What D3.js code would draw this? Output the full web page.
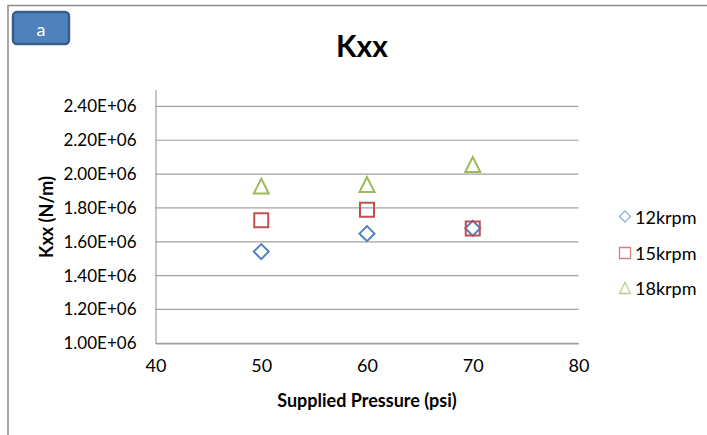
<!DOCTYPE html>
<html>
<head>
<meta charset="utf-8">
<script src="https://cdn.jsdelivr.net/npm/d3@7"></script>
<style>
  html, body { margin: 0; padding: 0; background: #fff; }
  svg { display: block; }
  text { font-family: Lato, "Open Sans", sans-serif; fill: #000; }
</style>
</head>
<body>
<svg id="chart" width="707" height="435"></svg>
<script>
// Supplied pressure (psi) and measured stiffness Kxx (N/m) per rotor speed
const pressures = [50, 60, 70];
const kxx12 = [1.542e6, 1.648e6, 1.680e6];
const kxx15 = [1.727e6, 1.789e6, 1.678e6];
const kxx18 = [1.929e6, 1.938e6, 2.057e6];
const seriesNames = ["12krpm", "15krpm", "18krpm"];
const xTicks = [40, 50, 60, 70, 80];
const yTicks = [1.0e6, 1.2e6, 1.4e6, 1.6e6, 1.8e6, 2.0e6, 2.2e6, 2.4e6];

// outline marker shapes; "size" is the half-extent in pixels
const diamond = { draw(c, h) { c.moveTo(0, -h); c.lineTo(h, 0); c.lineTo(0, h); c.lineTo(-h, 0); c.closePath(); } };
const square = { draw(c, h) { c.rect(-h, -h, 2 * h, 2 * h); } };
const triangle = { draw(c, h) { c.moveTo(0, -h); c.lineTo(h, h); c.lineTo(-h, h); c.closePath(); } };

const series = [
  { name: seriesNames[0], values: kxx12, color: "#4F81BD", light: "#8EB0DB", symbol: diamond, size: 7.5 },
  { name: seriesNames[1], values: kxx15, color: "#C0504D", light: "#D4807E", symbol: square, size: 7 },
  { name: seriesNames[2], values: kxx18, color: "#9BBB59", light: "#B9D08C", symbol: triangle, size: 7.5 }
];

const svg = d3.select("#chart");

// chart frame
svg.append("path")
  .attr("d", "M8,440 V5.5 H712")
  .attr("fill", "none")
  .attr("stroke", "#8c8c8c")
  .attr("stroke-width", 1.5);

// label badge
svg.append("rect")
  .attr("x", 13).attr("y", 12).attr("width", 56).attr("height", 32)
  .attr("rx", 4)
  .attr("fill", "#4F81BD")
  .attr("stroke", "#385D8A")
  .attr("stroke-width", 2.5);
svg.append("text")
  .attr("x", 41).attr("y", 29)
  .attr("text-anchor", "middle").attr("dominant-baseline", "central")
  .style("fill", "#fff").style("font-size", "18px")
  .text("a");

const x = d3.scaleLinear().domain([40, 80]).range([155.5, 578.5]);
const y = d3.scaleLinear().domain([1.0e6, 2.5e6]).range([343.3, 89.5]);

// horizontal gridlines
svg.append("g")
  .selectAll("line")
  .data(yTicks)
  .join("line")
  .attr("x1", x(40)).attr("x2", x(80))
  .attr("y1", d => y(d)).attr("y2", d => y(d))
  .attr("stroke", "#a0a0a0").attr("stroke-width", 1.2);

// y axis
const yAxis = svg.append("g")
  .attr("transform", `translate(${x(40)},0)`)
  .call(d3.axisLeft(y).tickValues(yTicks).tickSize(0).tickPadding(19)
    .tickFormat(d => (d / 1e6).toFixed(2) + "E+06"));
yAxis.select(".domain").attr("stroke", "#a0a0a0").attr("stroke-width", 1.2);
yAxis.selectAll("text").style("font-size", "17px").style("font-family", "Lato, sans-serif").attr("fill", "#000");

// x axis
const xAxis = svg.append("g")
  .attr("transform", `translate(0,${y(1.0e6)})`)
  .call(d3.axisBottom(x).tickValues(xTicks).tickSize(0).tickPadding(16));
xAxis.select(".domain").attr("stroke", "#a0a0a0").attr("stroke-width", 1.2);
xAxis.selectAll("text").style("font-size", "18px").style("font-family", "Lato, sans-serif").attr("fill", "#000");

// titles
svg.append("text")
  .attr("x", 362).attr("y", 45)
  .attr("text-anchor", "middle").attr("dominant-baseline", "central")
  .style("font-size", "30px").style("font-weight", "bold")
  .text("Kxx");
svg.append("text")
  .attr("x", 367).attr("y", 400)
  .attr("text-anchor", "middle").attr("dominant-baseline", "central")
  .style("font-size", "18px").style("font-weight", "bold")
  .text("Supplied Pressure (psi)");
svg.append("text")
  .attr("transform", "translate(46,217) rotate(-90)")
  .attr("text-anchor", "middle").attr("dominant-baseline", "central")
  .style("font-size", "18px").style("font-weight", "bold")
  .text("Kxx (N/m)");

// markers
series.forEach(s => {
  svg.append("g")
    .selectAll("path")
    .data(s.values.map((v, i) => [pressures[i], v]))
    .join("path")
    .attr("transform", d => `translate(${x(d[0])},${y(d[1])})`)
    .attr("d", d3.symbol(s.symbol, s.size))
    .attr("fill", "none")
    .attr("stroke", s.color)
    .attr("stroke-width", 2);
});

// legend
const legendRows = [216.5, 253, 288];
series.forEach((s, i) => {
  const g = svg.append("g").attr("transform", `translate(625,${legendRows[i]})`);
  g.append("path")
    .attr("d", d3.symbol(s.symbol, 5.5))
    .attr("fill", "none").attr("stroke", s.light).attr("stroke-width", 1.3);
  g.append("text")
    .attr("x", 10).attr("y", 0)
    .attr("dominant-baseline", "central")
    .style("font-size", "18px")
    .text(s.name);
});
</script>
</body>
</html>
